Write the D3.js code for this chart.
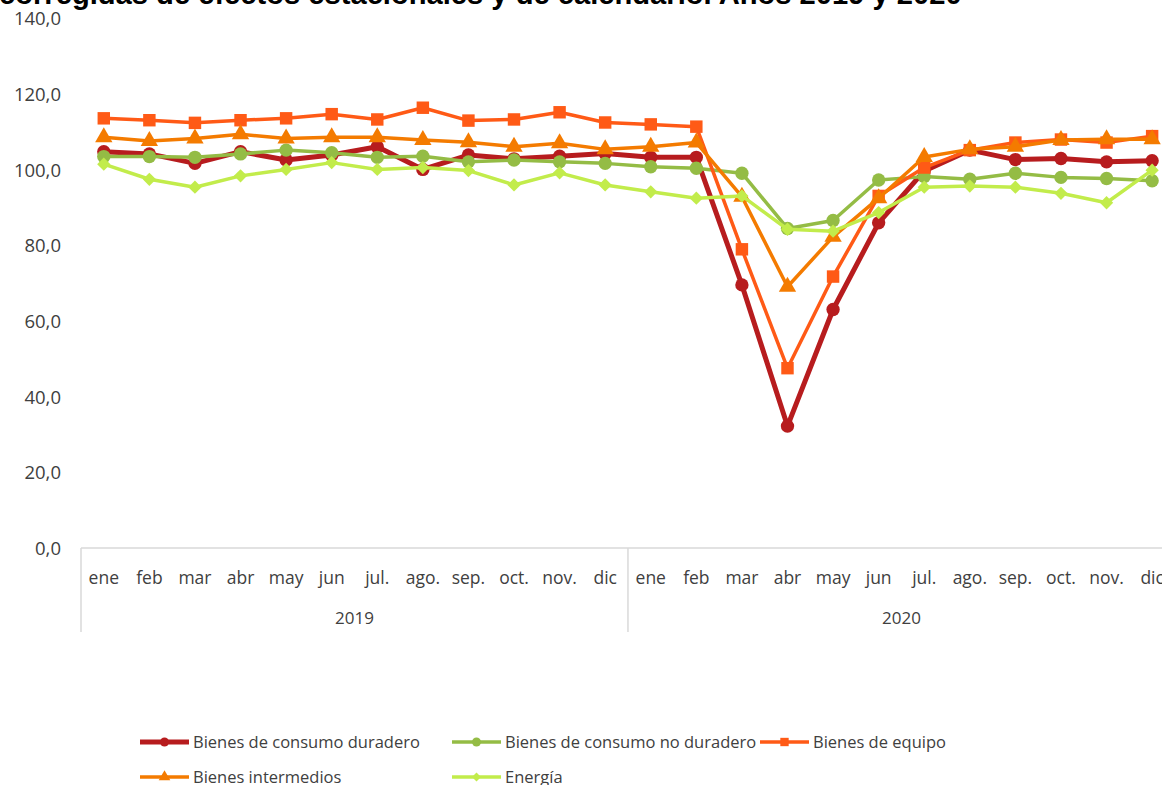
<!DOCTYPE html>
<html>
<head>
<meta charset="utf-8">
<script src="https://cdn.jsdelivr.net/npm/d3@7"></script>
<style>
    body { margin: 0; background: #ffffff; overflow: hidden; }
    svg { display: block; }
</style>
</head>
<body>
<div id="chart"></div>
<script>
// Data
var months = ['ene', 'feb', 'mar', 'abr', 'may', 'jun', 'jul.', 'ago.', 'sep.', 'oct.', 'nov.', 'dic'];
var years = ['2019', '2020'];
var yTicks = [0, 20, 40, 60, 80, 100, 120, 140];

var durable = [104.7, 104.1, 101.6, 104.7, 102.5, 103.8, 106.0, 100.0, 103.8, 102.8, 103.5, 104.2,
    103.2, 103.2, 69.5, 32.2, 63.0, 85.9, 99.6, 105.1, 102.6, 102.9, 102.0, 102.3];
var noDurable = [103.4, 103.4, 103.2, 104.1, 105.1, 104.4, 103.2, 103.5, 102.0, 102.5, 102.0, 101.6,
    100.7, 100.3, 99.0, 84.4, 86.5, 97.2, 98.1, 97.4, 99.0, 97.9, 97.6, 97.0];
var equipo = [113.5, 113.0, 112.3, 113.0, 113.5, 114.6, 113.2, 116.3, 112.9, 113.2, 115.1, 112.4,
    111.9, 111.3, 78.9, 47.5, 71.7, 93.0, 100.5, 105.1, 107.1, 107.9, 107.1, 108.8];
var intermedios = [108.5, 107.5, 108.2, 109.3, 108.2, 108.5, 108.5, 107.8, 107.2, 106.0, 106.9, 105.3,
    106.0, 107.1, 92.8, 69.0, 82.2, 92.4, 103.3, 105.3, 106.0, 107.8, 108.0, 108.0];
var energia = [101.4, 97.4, 95.3, 98.3, 100.0, 101.8, 100.0, 100.5, 99.7, 95.9, 99.1, 95.9,
    94.1, 92.4, 93.0, 84.2, 83.7, 88.6, 95.3, 95.6, 95.3, 93.7, 91.2, 99.8];

var seriesNames = ['Bienes de consumo duradero', 'Bienes de consumo no duradero', 'Bienes de equipo',
    'Bienes intermedios', 'Energía'];

window.ipiChart = (function () {

    var Chart = {};

    Chart.init = function () {
        this.width = 1162;
        this.height = 785;
        this.margin = { l: 81, t: 18, b: 237 };
        this.bandW = 45.58;
        this.font = '"Open Sans", sans-serif';

        this.series = [
            { name: seriesNames[0], values: durable, color: '#B71C1E', width: 5, shape: 'circle' },
            { name: seriesNames[1], values: noDurable, color: '#94BC45', width: 3.5, shape: 'circle' },
            { name: seriesNames[2], values: equipo, color: '#FF5A16', width: 3.5, shape: 'square' },
            { name: seriesNames[3], values: intermedios, color: '#F47B00', width: 3.5, shape: 'triangle' },
            { name: seriesNames[4], values: energia, color: '#C2EC4B', width: 3.5, shape: 'diamond' }
        ];

        this.categories = [];
        var self = this;
        years.forEach(function (yr) {
            months.forEach(function (m) {
                self.categories.push(yr + '-' + m);
            });
        });

        this.createElement();
        this.drawAxes();
        this.drawSeries();
        this.drawLegend();
        this.drawTitle();
    };

    Chart.createElement = function () {
        this.svg = d3.select('#chart').append('svg')
            .attr('width', this.width)
            .attr('height', this.height);

        this.x = d3.scaleBand()
            .domain(this.categories)
            .range([this.margin.l, this.margin.l + this.bandW * this.categories.length]);
        this.y = d3.scaleLinear()
            .domain([0, 140])
            .range([this.height - this.margin.b, this.margin.t]);
    };

    Chart.xc = function (i) {
        return this.x(this.categories[i]) + this.x.bandwidth() / 2;
    };

    Chart.symbolPath = function (shape, big) {
        var k = big ? 1 : 0.45;
        if (shape === 'circle') return d3.symbol(d3.symbolCircle, 140 * k)();
        if (shape === 'square') return d3.symbol(d3.symbolSquare, 155 * k)();
        if (shape === 'triangle') return d3.symbol(d3.symbolTriangle, 130 * k)();
        return d3.symbol(d3.symbolSquare, 88 * k)();
    };

    Chart.drawAxes = function () {
        var self = this;
        var locale = d3.formatLocale({ decimal: ',', thousands: '.', grouping: [3], currency: ['', '€'] });
        var fmt = locale.format('.1f');
        var y0 = this.y(0);

        // y labels only, no axis line
        var yAxis = d3.axisLeft(this.y).tickValues(yTicks).tickFormat(fmt).tickSize(0).tickPadding(0);
        var gy = this.svg.append('g').attr('transform', 'translate(61,0)').call(yAxis);
        gy.select('.domain').remove();
        gy.selectAll('text')
            .attr('font-family', this.font)
            .attr('font-size', '18.5px')
            .attr('fill', '#404040')
            .attr('dy', '0.36em');

        // category axis
        var xAxis = d3.axisBottom(this.x).tickSize(0).tickPadding(0)
            .tickFormat(function (d) { return d.split('-')[1]; });
        var gx = this.svg.append('g').attr('transform', 'translate(0,' + y0 + ')').call(xAxis);
        gx.select('.domain').remove();
        gx.selectAll('text')
            .attr('font-family', this.font)
            .attr('font-size', '17.5px')
            .attr('fill', '#404040')
            .attr('y', 36)
            .attr('dy', 0);

        this.svg.append('line')
            .attr('x1', this.margin.l).attr('x2', this.width)
            .attr('y1', y0).attr('y2', y0)
            .attr('stroke', '#D9D9D9').attr('stroke-width', 1.5);

        years.forEach(function (yr) {
            var left = self.x(yr + '-' + months[0]);
            var right = self.x(yr + '-' + months[months.length - 1]) + self.x.bandwidth();
            self.svg.append('line')
                .attr('x1', left).attr('x2', left)
                .attr('y1', y0).attr('y2', y0 + 84)
                .attr('stroke', '#D9D9D9').attr('stroke-width', 1.5);
            self.svg.append('text')
                .attr('x', (left + right) / 2)
                .attr('y', y0 + 76)
                .attr('text-anchor', 'middle')
                .attr('font-family', self.font)
                .attr('font-size', '17px')
                .attr('fill', '#404040')
                .text(yr);
        });
    };

    Chart.drawSeries = function () {
        var self = this;
        var line = d3.line()
            .x(function (d, i) { return self.xc(i); })
            .y(function (d) { return self.y(d); });

        this.series.forEach(function (s) {
            var g = self.svg.append('g').attr('class', 'series');
            g.append('path')
                .attr('d', line(s.values))
                .attr('fill', 'none')
                .attr('stroke', s.color)
                .attr('stroke-width', s.width)
                .attr('stroke-linejoin', 'round');
            g.selectAll('path.marker')
                .data(s.values)
                .enter().append('path')
                .attr('class', 'marker')
                .attr('d', self.symbolPath(s.shape, true))
                .attr('fill', s.color)
                .attr('transform', function (d, i) {
                    var t = 'translate(' + self.xc(i) + ',' + self.y(d) + ')';
                    return s.shape === 'diamond' ? t + ' rotate(45)' : t;
                });
        });
    };

    Chart.drawLegend = function () {
        var self = this;
        var slots = [[140, 742], [452, 742], [760, 742], [140, 777], [452, 777]];

        this.series.forEach(function (s, i) {
            var g = self.svg.append('g')
                .attr('transform', 'translate(' + slots[i][0] + ',' + slots[i][1] + ')');
            g.append('line')
                .attr('x1', 0).attr('x2', 49)
                .attr('y1', 0).attr('y2', 0)
                .attr('stroke', s.color)
                .attr('stroke-width', s.width);
            g.append('path')
                .attr('d', self.symbolPath(s.shape, false))
                .attr('fill', s.color)
                .attr('transform', 'translate(24.5,0)' + (s.shape === 'diamond' ? ' rotate(45)' : ''));
            g.append('text')
                .attr('x', 53)
                .attr('y', 0)
                .attr('dy', '0.35em')
                .attr('font-family', self.font)
                .attr('font-size', '16.5px')
                .attr('fill', '#404040')
                .text(s.name);
        });
    };

    Chart.drawTitle = function () {
        // only the last line of the title is visible, cut by the top edge
        var t = this.svg.append('text')
            .attr('x', -1)
            .attr('y', 4)
            .attr('font-family', '"Liberation Sans", Arial, sans-serif')
            .attr('font-weight', 'bold')
            .attr('font-size', '28px')
            .attr('fill', '#000000')
            .text('corregidas de efectos estacionales y de calendario. Años 2019 y 2020');
        var w = t.node().getComputedTextLength();
        t.attr('font-size', (28 * 963 / w).toFixed(2) + 'px');
    };

    return Chart;

})();

ipiChart.init();
</script>
</body>
</html>
